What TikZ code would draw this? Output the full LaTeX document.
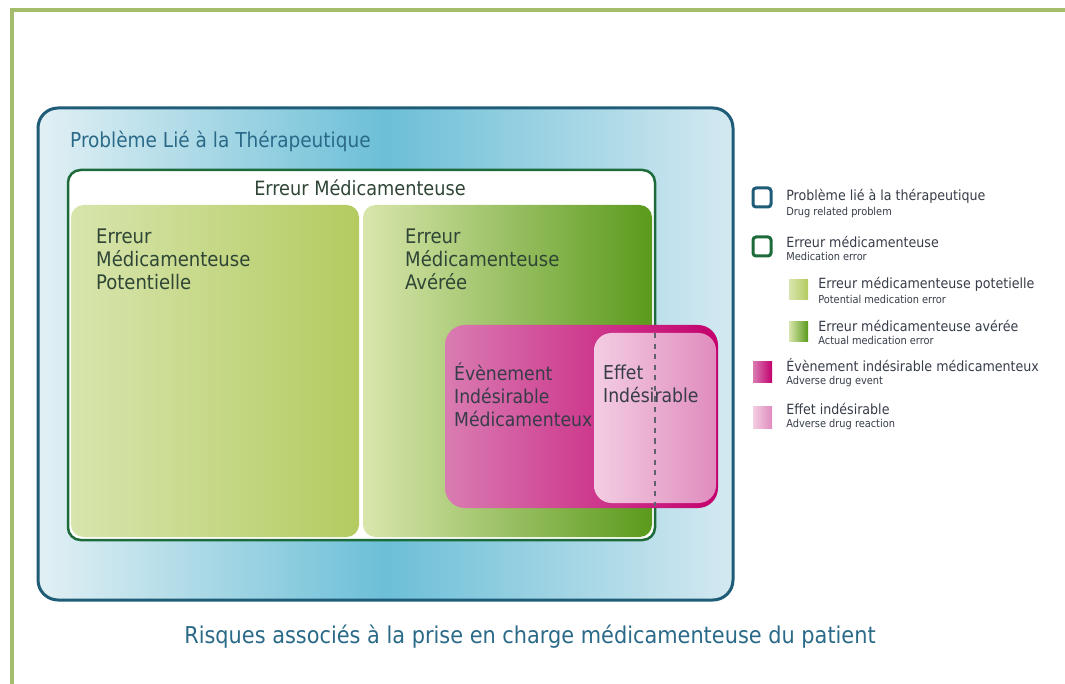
\documentclass[tikz,border=0pt]{standalone}
\usepackage{fontspec}
\setmainfont{DejaVu Sans Condensed}
\usetikzlibrary{positioning}

\definecolor{framegreen}{HTML}{A4BD6C}
\definecolor{pltborder}{HTML}{1F5C78}
\definecolor{plttext}{HTML}{2A6A88}
\definecolor{pltL}{HTML}{E2F0F4}
\definecolor{pltM}{HTML}{6CBFD7}
\definecolor{pltR}{HTML}{D4E9F1}
\definecolor{meborder}{HTML}{1D6A3A}
\definecolor{potL}{HTML}{D8E5AE}
\definecolor{potR}{HTML}{B3CB60}
\definecolor{actL}{HTML}{D9E6AC}
\definecolor{actR}{HTML}{5A9A1C}
\definecolor{eimL}{HTML}{D97CB2}
\definecolor{eimR}{HTML}{C4006E}
\definecolor{effL}{HTML}{F3CDE2}
\definecolor{effR}{HTML}{E08CBE}
\definecolor{txtdark}{HTML}{363C48}
\definecolor{txtgreen}{HTML}{2F4636}

\begin{document}
\begin{tikzpicture}[x=0.2mm,y=-0.2mm,
    boxtxt/.style={anchor=west,align=left,text=txtgreen,font=\fontsize{11.4}{13}\selectfont},
    pinktxt/.style={boxtxt,text=txtdark,font=\fontsize{10.9}{13}\selectfont},
    legtxt/.style={anchor=west,inner sep=0pt,text=txtdark,font=\fontsize{8}{9}\selectfont},
    legsub/.style={anchor=north west,inner sep=0pt,text=txtdark,font=\fontsize{6.2}{7}\selectfont},
    legbox/.style={line width=0.6mm,rounded corners=0.6mm}]
  \useasboundingbox (0,0) rectangle (1065,684);
  % outer frame
  \draw[framegreen,line width=0.8mm] (12,690) -- (12,10) -- (1070,10);

  % drug related problem
  \draw[pltborder,line width=0.6mm,rounded corners=4mm,
    left color=pltL,right color=pltR,middle color=pltM] (38,108) rectangle (733,600);
  \node[anchor=west,text=plttext,font=\fontsize{11.7}{13}\selectfont] (plt) at (64,141)
    {Problème Lié à la Thérapeutique};

  % medication error
  \draw[meborder,line width=0.5mm,fill=white,rounded corners=2.5mm] (68,170) rectangle (655,540);
  \node[text=txtgreen,font=\fontsize{11.2}{13}\selectfont] (me) at (360,188) {Erreur Médicamenteuse};
  \shade[left color=potL,right color=potR,rounded corners=2.5mm] (71,205) rectangle (359,537);
  \shade[left color=actL,right color=actR,rounded corners=2.5mm] (363,205) rectangle (652,537);
  \node[boxtxt] (pot) at (90,259) {Erreur\\Médicamenteuse\\Potentielle};
  \node[boxtxt] (act) at (399,259) {Erreur\\Médicamenteuse\\Avérée};

  % adverse drug event / reaction
  \shade[left color=eimL,right color=eimR,rounded corners=4mm] (445,325) rectangle (718,508);
  \shade[left color=effL,right color=effR,rounded corners=3.5mm] (594,333) rectangle (716,503);
  \draw[txtdark!80,dashed,line width=0.3mm] (655,333) -- (655,506);
  \node[pinktxt] (eim) at (448,395) {Évènement\\Indésirable\\Médicamenteux};
  \node[pinktxt] (eff) at (597,384) {Effet\\Indésirable};

  % legend
  \draw[pltborder,legbox] (753,188) rectangle (771,207);
  \node[legtxt] (l1) at (786,196) {Problème lié à la thérapeutique};
  \node[legsub] (l1s) at ([yshift=-2pt]l1.south west) {Drug related problem};
  \draw[meborder,legbox] (753,237) rectangle (771,256);
  \node[legtxt] (l2) at (786,242) {Erreur médicamenteuse};
  \node[legsub] (l2s) at ([yshift=-2pt]l2.south west) {Medication error};
  \shade[left color=potL,right color=potR] (789,280) rectangle (808,300);
  \node[legtxt] (l3) at (818,284) {Erreur médicamenteuse potetielle};
  \node[legsub] (l3s) at ([yshift=-2pt]l3.south west) {Potential medication error};
  \shade[left color=actL,right color=actR] (789,322) rectangle (808,342);
  \node[legtxt] (l4) at (818,326) {Erreur médicamenteuse avérée};
  \node[legsub] (l4s) at ([yshift=-2pt]l4.south west) {Actual medication error};
  \shade[left color=eimL,right color=eimR] (753,362) rectangle (772,383);
  \node[legtxt] (l5) at (786,365) {Évènement indésirable médicamenteux};
  \node[legsub] (l5s) at ([yshift=-2pt]l5.south west) {Adverse drug event};
  \shade[left color=effL,right color=effR] (753,407) rectangle (772,428);
  \node[legtxt] (l6) at (786,409) {Effet indésirable};
  \node[legsub] (l6s) at ([yshift=-2pt]l6.south west) {Adverse drug reaction};

  % caption
  \node[text=plttext,font=\fontsize{13.2}{15}\selectfont] (cap) at (530,637)
    {Risques associés à la prise en charge médicamenteuse du patient};
\end{tikzpicture}
\end{document}
